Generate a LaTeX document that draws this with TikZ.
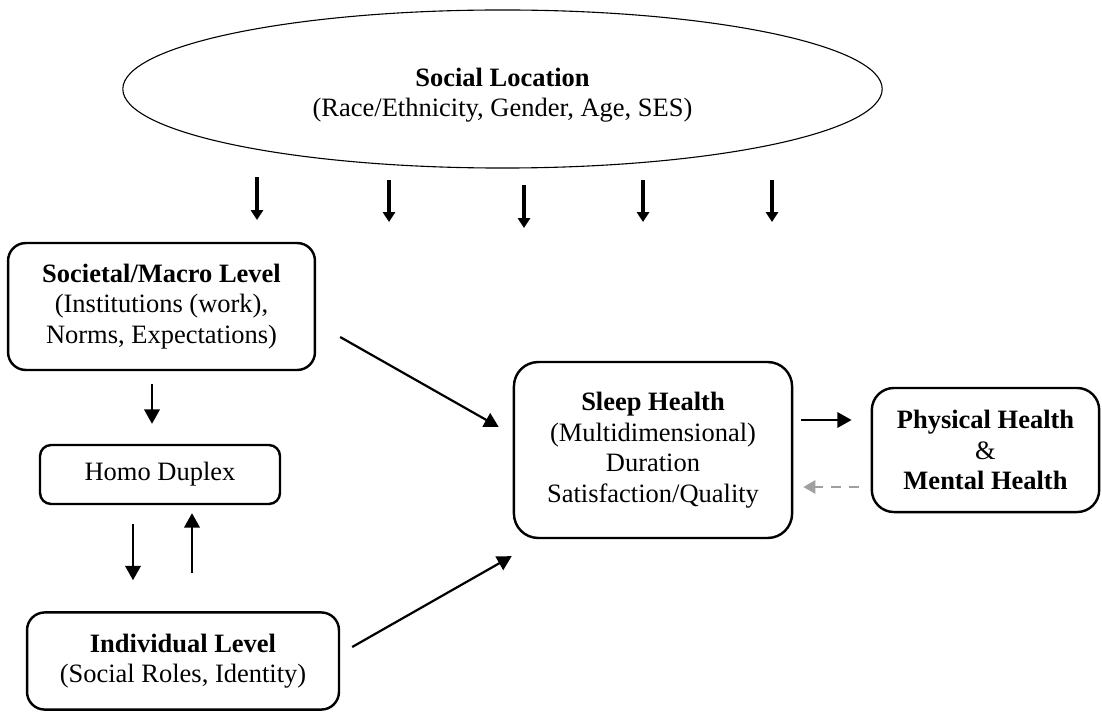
\documentclass[tikz,border=0pt]{standalone}
\usepackage{fontspec}
\setmainfont{Liberation Serif}
\usetikzlibrary{arrows.meta,positioning,calc,shapes.geometric}
\definecolor{dashgrey}{RGB}{160,160,160}

\begin{document}
\begin{tikzpicture}[
  x=0.453pt,y=-0.453pt,
  font=\fontsize{12}{13.8}\selectfont,
  box/.style={draw,line width=1.1pt,rounded corners=8pt,align=center,inner sep=0pt},
  arr/.style={-{Triangle[length=6.5pt,width=7pt]},line width=1pt},
  bigarr/.style={-{Triangle[length=4.5pt,width=5.5pt]},line width=1.8pt},
  backarr/.style={-{Triangle[length=5.5pt,width=6pt]},line width=1.1pt,dashgrey,dash pattern=on 4.5pt off 3.5pt}
]
\useasboundingbox (0,0) rectangle (1102,711);
\node[ellipse,draw,line width=0.5pt,minimum width=344pt,minimum height=71.6pt,inner sep=0pt,align=center] (loc) at (502.5,89) {\rule{0pt}{14pt}\textbf{Social Location}\\(Race/Ethnicity, Gender, Age, SES)};
\node[box,minimum width=139pt,minimum height=57.5pt] (macro) at (161.5,306.5) {\textbf{Societal/Macro Level}\\(Institutions (work),\\Norms, Expectations)};
\node[box,rounded corners=5pt,minimum width=108.7pt,minimum height=26.7pt] (duplex) at (160,474.5) {Homo Duplex};
\node[box,minimum width=141.3pt,minimum height=44pt] (indiv) at (183,661) {\textbf{Individual Level}\\(Social Roles, Identity)};
\node[box,rounded corners=11pt,minimum width=126pt,minimum height=79.7pt] (sleep) at (653,450) {\textbf{Sleep Health}\\(Multidimensional)\\Duration\\Satisfaction/Quality};
\node[box,rounded corners=10pt,minimum width=103pt,minimum height=56.2pt] (health) at (985.5,450) {\textbf{Physical Health}\\\&\\\textbf{Mental Health}};
\coordinate (l1) at (257,177); \coordinate (m1) at (257,220);
\coordinate (l2) at (389,180); \coordinate (m2) at (389,222);
\coordinate (l3) at (524,185); \coordinate (m3) at (524,228);
\coordinate (l4) at (643,180); \coordinate (m4) at (643,222);
\coordinate (l5) at (772,180); \coordinate (m5) at (772,222);
\draw[bigarr] (l1)--(m1);
\draw[bigarr] (l2)--(m2);
\draw[bigarr] (l3)--(m3);
\draw[bigarr] (l4)--(m4);
\draw[bigarr] (l5)--(m5);
\draw[arr] ($(macro.south)+(-9.5,13)$)--($(duplex.north)+(-8,-20)$);
\draw[arr] ($(duplex.south)+(-27,19)$)--($(indiv.north)+(-50,-31)$);
\draw[arr] ($(indiv.north)+(9,-38)$)--($(duplex.south)+(32,8)$);
\draw[arr] ($(macro.east)+(24,30.5)$)--($(sleep.west)+(-14,-23)$);
\draw[arr] ($(indiv.east)+(12,-14)$)--($(sleep.south west)+(-1,17)$);
\draw[arr] ($(sleep.east)+(8,-30)$)--($(health.west)+(-19,-30)$);
\draw[backarr] ($(health.west)+(-12,37)$)--($(sleep.east)+(10,37)$);
\end{tikzpicture}
\end{document}
